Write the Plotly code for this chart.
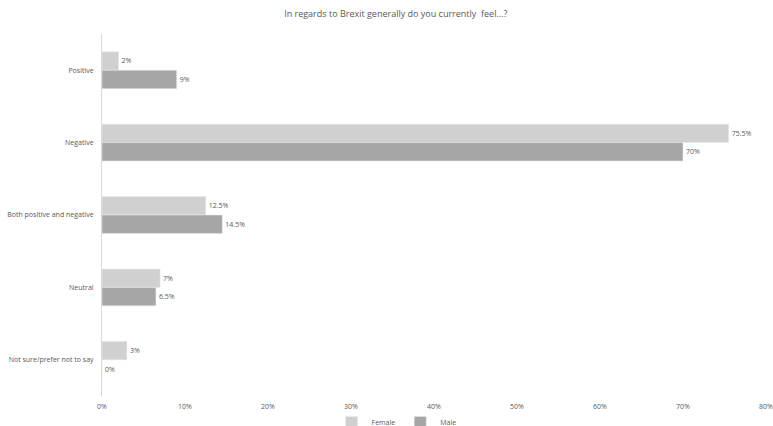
import plotly.graph_objects as go

categories = ["Positive", "Negative", "Both positive and negative", "Neutral", "Not sure/prefer not to say"]
female = [2, 75.5, 12.5, 7, 3]
male = [9, 70, 14.5, 6.5, 0]
x_ticks = [0, 10, 20, 30, 40, 50, 60, 70, 80]
x_tick_labels = ["0%", "10%", "20%", "30%", "40%", "50%", "60%", "70%", "80%"]

def fmt(v):
    return f"{v:g}%"

fig = go.Figure()
fig.add_trace(go.Bar(
    y=categories, x=female, name="Female", orientation="h",
    marker=dict(color="#d0d0d0"),
    text=[fmt(v) for v in female], textposition="outside",
    textfont=dict(size=7, color="#595959"), cliponaxis=False,
))
fig.add_trace(go.Bar(
    y=categories, x=male, name="Male", orientation="h",
    marker=dict(color="#a6a6a6"),
    text=[fmt(v) for v in male], textposition="outside",
    textfont=dict(size=7, color="#595959"), cliponaxis=False,
))

fig.update_layout(
    width=773, height=426,
    barmode="group", bargap=0.49, bargroupgap=0,
    plot_bgcolor="white", paper_bgcolor="white",
    font=dict(family="Open Sans, Liberation Sans, sans-serif", color="#595959", size=7),
    title=dict(text="In regards to Brexit generally do you currently  feel...?",
               x=0.512, xanchor="center", y=0.967, yanchor="middle",
               font=dict(size=9, color="#595959")),
    margin=dict(l=102, r=7, t=34, b=30, autoexpand=False),
    xaxis=dict(range=[0, 80], tickvals=x_ticks, ticktext=x_tick_labels,
               showgrid=False, zeroline=False, showline=False, automargin=False,
               ticklabeloverflow="allow", ticklabelstandoff=5,
               tickfont=dict(size=7, color="#595959")),
    yaxis=dict(autorange="reversed", showgrid=False, zeroline=False,
               showline=True, linecolor="#d9d9d9", linewidth=1, automargin=False,
               ticks="", ticklabelstandoff=6,
               tickfont=dict(size=7, color="#595959")),
    legend=dict(orientation="h", xref="container", yref="container",
                x=0.513, xanchor="center", y=0.008, yanchor="middle",
                bgcolor="rgba(0,0,0,0)",
                font=dict(size=7, color="#595959"), itemwidth=30),
    showlegend=True,
)

fig.write_html("out.html", config={"displayModeBar": False},
               post_script="document.body.style.margin='0';document.body.style.overflow='hidden';")
